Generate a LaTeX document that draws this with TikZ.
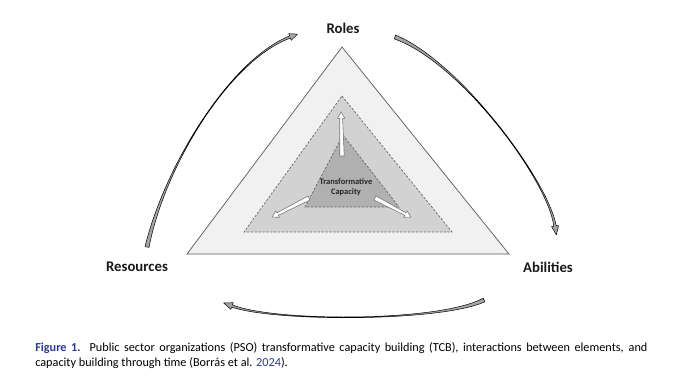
\documentclass[tikz,border=0pt]{standalone}
\usepackage{fontspec}
\setmainfont{Carlito}
\usepackage{xcolor}
\definecolor{ringout}{HTML}{F1F1F1}
\definecolor{ringmid}{HTML}{D2D2D2}
\definecolor{ringin}{HTML}{B0B0B0}
\definecolor{ribbon}{HTML}{A4A4A4}
\definecolor{figblue}{HTML}{2B3A8F}
\usetikzlibrary{calc}

% white block arrow from #1 (tail) to #2 (tip)
\newcommand{\fatarrow}[2]{%
  \coordinate (hb) at ($(#2)!4.5pt!(#1)$);
  \filldraw[inarrow] ($(#1)!1.6pt!90:(#2)$) -- ($(hb)!1.0pt!90:(#2)$)
    -- ($(hb)!2.6pt!90:(#2)$) -- (#2) -- ($(hb)!2.6pt!-90:(#2)$)
    -- ($(hb)!1.0pt!-90:(#2)$) -- ($(#1)!1.6pt!-90:(#2)$) -- cycle;}

\begin{document}
\begin{tikzpicture}[x=0.025cm, y=-0.025cm,
    every node/.style={inner sep=1pt},
    corner/.style={font=\bfseries\fontsize{10.5}{12}\selectfont, text=black!90},
    core/.style={font=\bfseries\fontsize{6}{7}\selectfont, align=center, text=black!85},
    outertri/.style={draw=black!65, fill=ringout, line width=0.5pt, line join=miter},
    midtri/.style={draw=black!60, fill=ringmid, dashed, dash pattern=on 1.6pt off 1.2pt, line width=0.5pt},
    innertri/.style={draw=black!60, fill=ringin, dashed, dash pattern=on 1.6pt off 1.2pt, line width=0.5pt},
    inarrow/.style={draw=black!55, fill=white, line width=0.4pt, line join=round},
    band/.style={draw=black, fill=ribbon, line width=0.35pt, line join=round},
    caption/.style={font=\fontsize{8.7}{10}\selectfont, anchor=base west, inner sep=0pt}]
  \useasboundingbox (0,0) rectangle (680,378);
  % nested triangles
  \filldraw[outertri] (342,47) -- (509,254) -- (187,254) -- cycle;
  \filldraw[midtri] (342,96) -- (452,232) -- (244,232) -- cycle;
  \filldraw[innertri] (343,135) -- (399,207) -- (305,207) -- cycle;
  \node[core] (tc) at (346,187) {Transformative\\Capacity};
  % inner arrows
  \coordinate (upA) at (342,156);
  \coordinate (upB) at (341,112);
  \coordinate (lfA) at (309,198);
  \coordinate (lfB) at (272,217);
  \coordinate (rtA) at (375,198);
  \coordinate (rtB) at (411,217);
  \fatarrow{upA}{upB}
  \fatarrow{lfA}{lfB}
  \fatarrow{rtA}{rtB}
  % corner labels
  \node[corner] (roles) at (343,28) {Roles};
  \node[corner] (res) at (137,267) {Resources};
  \node[corner] (abil) at (548,267) {Abilities};
  % cycle ribbons
  \filldraw[band] (149,247.4) .. controls (165,165) and (230,60) .. (290.4,38.1)
    -- (291.3,40.3) -- (297.5,34.1) -- (288.7,33.7) -- (289.6,35.9)
    .. controls (230,60) and (165,165) .. (145,246.6) -- cycle;
  \filldraw[band] (394.3,38.9) .. controls (460,62) and (548,180) .. (553.8,226.2)
    -- (551.5,226.5) -- (556.4,234.9) -- (558.5,225.5) -- (556.2,225.8)
    .. controls (548,180) and (460,62) .. (395.7,35.1) -- cycle;
  \filldraw[band] (483.1,298.2) .. controls (440,322) and (275,322) .. (232.4,304.9)
    -- (233.2,302.7) -- (223.6,302.9) -- (230.8,309.3) -- (231.6,307.1)
    .. controls (275,322) and (440,322) .. (484.9,301.8) -- cycle;
  % caption
  \node[caption] (cap1) at (35,351) {\makebox[15.3cm][s]{\textcolor{figblue}{\bfseries Figure 1.} Public sector organizations (PSO) transformative capacity building (TCB), interactions between elements, and}};
  \node[caption] (cap2) at (35,366) {capacity building through time (Borrás et al. \textcolor{figblue}{2024}).};
\end{tikzpicture}
\end{document}
